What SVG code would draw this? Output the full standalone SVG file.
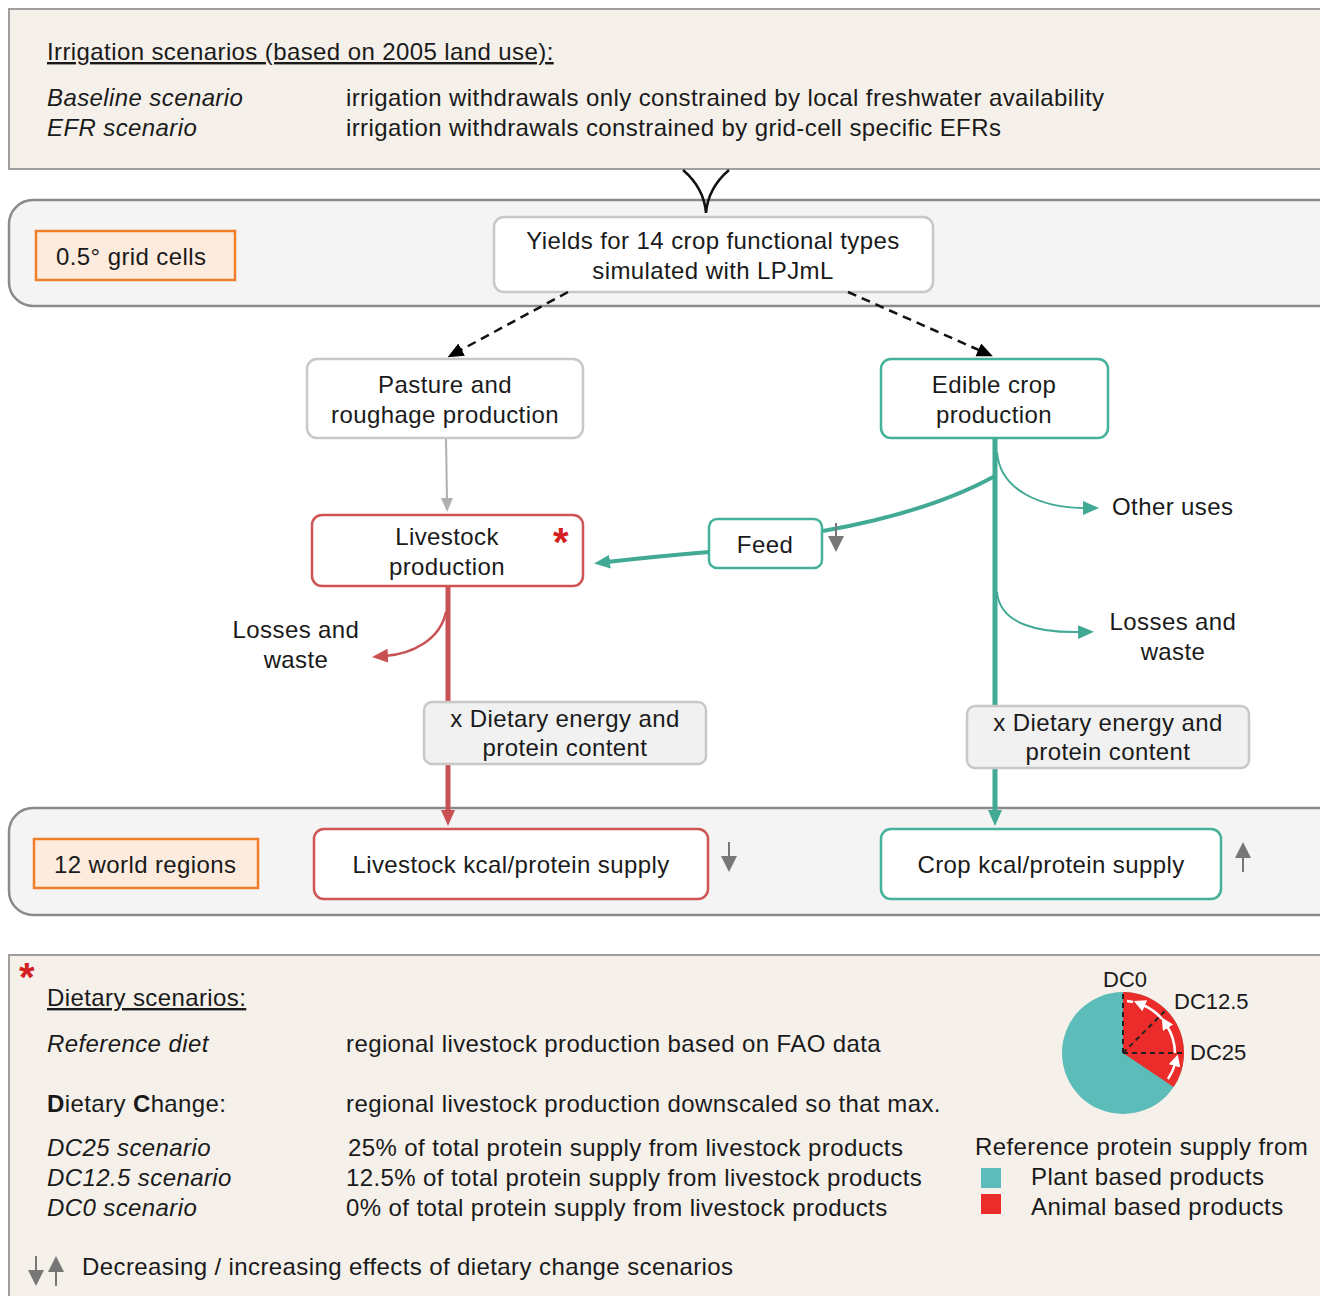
<svg xmlns="http://www.w3.org/2000/svg" width="1320" height="1296" viewBox="0 0 1320 1296">
<defs>
<style>
text{font-family:"Liberation Sans",Arial,sans-serif;font-size:24px;letter-spacing:0.4px;fill:#1a1a1a}
.c{text-anchor:middle}
.i{font-style:italic}
.u{text-decoration:underline}
.panel{fill:#f5f0ea;stroke:#a0a0a0;stroke-width:2}
.band{fill:#f4f4f4;stroke:#8a8a8a;stroke-width:2.5}
.orange{fill:#fdebdd;stroke:#ef7d2a;stroke-width:2.5}
.grey{fill:#ffffff;stroke:#c8c8c8;stroke-width:2.5}
.greyf{fill:#f1f1f1;stroke:#c8c8c8;stroke-width:2.5}
.teal{fill:#ffffff;stroke:#44b19b;stroke-width:2.5}
.red{fill:#ffffff;stroke:#cf5555;stroke-width:2.5}
.tl{fill:none;stroke:#42a994}
.rl{fill:none;stroke:#c95152}
.star{font-weight:bold;fill:#d42020;letter-spacing:0}
.pl{font-size:22px;letter-spacing:0}
</style>
<marker id="aT" markerUnits="userSpaceOnUse" markerWidth="18" markerHeight="16" refX="3" refY="7" orient="auto"><path d="M0,0 L16,7 L0,14 z" fill="#42a994"/></marker>
<marker id="aR" markerUnits="userSpaceOnUse" markerWidth="18" markerHeight="16" refX="3" refY="7" orient="auto"><path d="M0,0 L16,7 L0,14 z" fill="#c95152"/></marker>
<marker id="aK" markerUnits="userSpaceOnUse" markerWidth="18" markerHeight="16" refX="3" refY="7" orient="auto"><path d="M0,0 L16,7 L0,14 z" fill="#000"/></marker>
<marker id="aG" markerUnits="userSpaceOnUse" markerWidth="18" markerHeight="16" refX="3" refY="6" orient="auto"><path d="M0,0 L14,6 L0,12 z" fill="#b0b0b0"/></marker>
<marker id="aS" markerUnits="userSpaceOnUse" markerWidth="18" markerHeight="18" refX="2" refY="8" orient="auto"><path d="M0,0 L16,8 L0,16 z" fill="#777"/></marker>
<marker id="aW" markerUnits="userSpaceOnUse" markerWidth="14" markerHeight="14" refX="2" refY="6" orient="auto"><path d="M0,0 L12,6 L0,12 z" fill="#fff"/></marker>
</defs>

<g id="irrigation-panel">
<rect class="panel" x="9" y="9" width="1330" height="160"/>
<text class="u" x="47" y="60">Irrigation scenarios (based on 2005 land use):</text>
<text class="i" x="47" y="106">Baseline scenario</text>
<text class="i" x="47" y="136">EFR scenario</text>
<text x="346" y="106">irrigation withdrawals only constrained by local freshwater availability</text>
<text x="346" y="136">irrigation withdrawals constrained by grid-cell specific EFRs</text>
</g>

<g id="grid-band"><rect class="band" x="9" y="200" width="1340" height="106" rx="24"/></g>
<g id="grid-cells"><rect class="orange" x="36" y="231" width="199" height="49"/><text x="56" y="265">0.5° grid cells</text></g>
<g id="yields"><rect class="grey" x="494" y="217" width="439" height="75" rx="10"/><text class="c" x="713" y="249">Yields for 14 crop functional types</text><text class="c" x="713" y="279">simulated with LPJmL</text></g>

<g id="regions-band"><rect class="band" x="9" y="808" width="1340" height="107" rx="24"/></g>

<g id="connectors">
<path d="M683,170 Q704,188 706,213 M729,170 Q708,188 706,213" fill="none" stroke="#111" stroke-width="2.5"/>
<path d="M568,292 L459,351" fill="none" stroke="#111" stroke-width="2.5" stroke-dasharray="9,6" marker-end="url(#aK)"/>
<path d="M848,292 L981,351" fill="none" stroke="#111" stroke-width="2.5" stroke-dasharray="9,6" marker-end="url(#aK)"/>
<path d="M446,438 L447,501" fill="none" stroke="#b0b0b0" stroke-width="2" marker-end="url(#aG)"/>
<path class="tl" d="M995,438 L995,813" stroke-width="5" marker-end="url(#aT)"/>
<path class="tl" d="M995,476 Q930,512 823,531" stroke-width="4"/>
<path class="tl" d="M709,552 Q660,556 607,562" stroke-width="4" marker-end="url(#aT)"/>
<path class="tl" d="M997,452 C1000,490 1040,508 1086,508" stroke-width="2" marker-end="url(#aT)"/>
<path class="tl" d="M997,592 C1000,625 1040,633 1081,632" stroke-width="2" marker-end="url(#aT)"/>
<path class="rl" d="M448,586 L448,813" stroke-width="5" marker-end="url(#aR)"/>
<path class="rl" d="M446,612 C440,640 412,654 385,656" stroke-width="2.5" marker-end="url(#aR)"/>
</g>

<g id="pasture"><rect class="grey" x="307" y="359" width="276" height="79" rx="10"/><text class="c" x="445" y="393">Pasture and</text><text class="c" x="445" y="423">roughage production</text></g>
<g id="edible-crop"><rect class="teal" x="881" y="359" width="227" height="79" rx="10"/><text class="c" x="994" y="393">Edible crop</text><text class="c" x="994" y="423">production</text></g>
<g id="livestock"><rect class="red" x="312" y="515" width="271" height="71" rx="10"/><text class="c" x="447" y="545">Livestock</text><text class="c" x="447" y="575">production</text><text class="star" x="553" y="556" style="font-size:40px">*</text></g>
<g id="feed"><rect class="teal" x="709" y="519" width="113" height="49" rx="8"/><text class="c" x="765" y="553">Feed</text><path d="M836,523 L836,538" stroke="#777" stroke-width="2" marker-end="url(#aS)"/></g>
<g id="other-uses"><text x="1112" y="515">Other uses</text></g>
<g id="losses-crop"><text class="c" x="1173" y="630">Losses and</text><text class="c" x="1173" y="660">waste</text></g>
<g id="losses-livestock"><text class="c" x="296" y="638">Losses and</text><text class="c" x="296" y="668">waste</text></g>
<g id="diet-left"><rect class="greyf" x="424" y="702" width="282" height="62" rx="8"/><text class="c" x="565" y="727">x Dietary energy and</text><text class="c" x="565" y="756">protein content</text></g>
<g id="diet-right"><rect class="greyf" x="967" y="706" width="282" height="62" rx="8"/><text class="c" x="1108" y="731">x Dietary energy and</text><text class="c" x="1108" y="760">protein content</text></g>

<g id="world-regions"><rect class="orange" x="34" y="839" width="224" height="49"/><text x="54" y="873">12 world regions</text></g>
<g id="livestock-supply"><rect class="red" x="314" y="829" width="394" height="70" rx="10"/><text class="c" x="511" y="873">Livestock kcal/protein supply</text><path d="M729,842 L729,858" stroke="#777" stroke-width="2" marker-end="url(#aS)"/></g>
<g id="crop-supply"><rect class="teal" x="881" y="829" width="340" height="70" rx="10"/><text class="c" x="1051" y="873">Crop kcal/protein supply</text><path d="M1243,872 L1243,856" stroke="#777" stroke-width="2" marker-end="url(#aS)"/></g>

<g id="dietary-panel">
<rect class="panel" x="9" y="955" width="1330" height="360"/>
<text class="star" x="19" y="991" style="font-size:40px">*</text>
<text class="u" x="47" y="1006">Dietary scenarios:</text>
<text class="i" x="47" y="1052">Reference diet</text>
<text x="346" y="1052">regional livestock production based on FAO data</text>
<text x="47" y="1112"><tspan font-weight="bold">D</tspan>ietary <tspan font-weight="bold">C</tspan>hange:</text>
<text x="346" y="1112">regional livestock production downscaled so that max.</text>
<text class="i" x="47" y="1156">DC25 scenario</text>
<text class="i" x="47" y="1186">DC12.5 scenario</text>
<text class="i" x="47" y="1216">DC0 scenario</text>
<text x="348" y="1156">25% of total protein supply from livestock products</text>
<text x="346" y="1186">12.5% of total protein supply from livestock products</text>
<text x="346" y="1216">0% of total protein supply from livestock products</text>
<path d="M36,1256 L36,1272" stroke="#777" stroke-width="2" marker-end="url(#aS)"/>
<path d="M56,1286 L56,1270" stroke="#777" stroke-width="2" marker-end="url(#aS)"/>
<text x="82" y="1275">Decreasing / increasing effects of dietary change scenarios</text>
</g>

<g id="pie">
<circle cx="1123" cy="1053" r="61" fill="#5bbcb9"/>
<path d="M1123,1053 L1123,992 A61,61 0 0 1 1173.6,1087.1 Z" fill="#ec2b2b"/>
<path d="M1123,1053 L1123,992 M1123,1053 L1165,1011 M1123,1053 L1184,1053" stroke="#222" stroke-width="2" stroke-dasharray="5,4" fill="none"/>
<path d="M1168,1079 A52,52 0 0 0 1175,1064" fill="none" stroke="#fff" stroke-width="2.5" marker-end="url(#aW)"/>
<path d="M1175,1053 A52,52 0 0 0 1167,1026" fill="none" stroke="#fff" stroke-width="2.5" marker-end="url(#aW)"/>
<path d="M1162,1019 A52,52 0 0 0 1143,1005" fill="none" stroke="#fff" stroke-width="2.5" marker-end="url(#aW)"/>
<path d="M1133,1002 A52,52 0 0 0 1127,1001" fill="none" stroke="#fff" stroke-width="2.5"/>
<text class="pl" x="1103" y="987">DC0</text>
<text class="pl" x="1174" y="1009">DC12.5</text>
<text class="pl" x="1190" y="1060">DC25</text>
</g>
<g id="legend">
<text x="975" y="1155">Reference protein supply from</text>
<rect x="981" y="1168" width="20" height="20" fill="#5bbcb9"/>
<text x="1031" y="1185">Plant based products</text>
<rect x="981" y="1194" width="20" height="20" fill="#ec2b2b"/>
<text x="1031" y="1215">Animal based products</text>
</g>
</svg>
